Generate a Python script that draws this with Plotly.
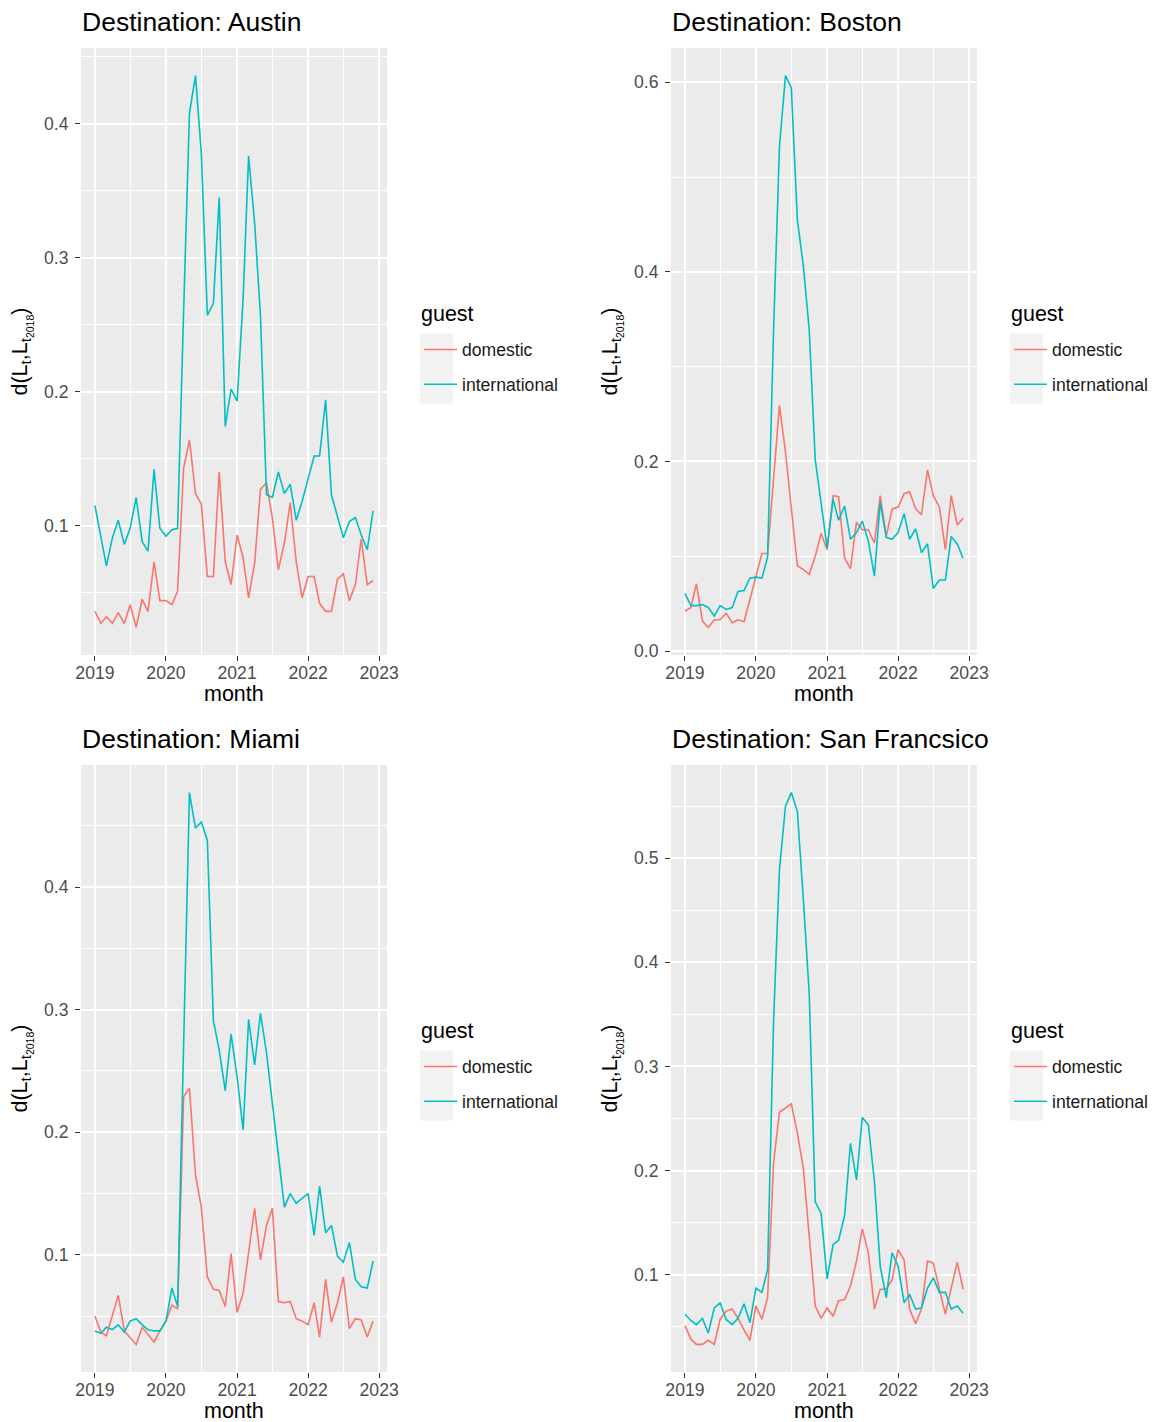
import math
import pandas as pd
import plotly.graph_objects as go

# ---------------- data ----------------
months = pd.date_range("2019-01-01", "2022-12-01", freq="MS")
year_ticks = ["2019", "2020", "2021", "2022", "2023"]
cities = ["Austin", "Boston", "Miami", "San Francsico"]
guest_types = ["domestic", "international"]

austin_domestic = [0.036, 0.027, 0.032, 0.027, 0.035, 0.027, 0.041, 0.024, 0.045, 0.036, 0.073, 0.044,
                   0.044, 0.041, 0.051, 0.143, 0.164, 0.124, 0.116, 0.062, 0.062, 0.140, 0.073, 0.056,
                   0.093, 0.076, 0.046, 0.072, 0.127, 0.132, 0.106, 0.067, 0.087, 0.117, 0.073, 0.046,
                   0.062, 0.062, 0.042, 0.036, 0.036, 0.060, 0.064, 0.044, 0.056, 0.090, 0.056, 0.059]
austin_international = [0.115, 0.091, 0.070, 0.091, 0.104, 0.086, 0.098, 0.121, 0.088, 0.081, 0.142, 0.098,
                        0.092, 0.097, 0.098, 0.260, 0.408, 0.436, 0.378, 0.257, 0.266, 0.345, 0.174, 0.202,
                        0.193, 0.270, 0.376, 0.326, 0.257, 0.123, 0.121, 0.140, 0.124, 0.131, 0.104, 0.118,
                        0.134, 0.152, 0.152, 0.194, 0.123, 0.107, 0.091, 0.103, 0.106, 0.093, 0.082, 0.111]
boston_domestic = [0.042, 0.046, 0.071, 0.032, 0.025, 0.033, 0.033, 0.040, 0.030, 0.033, 0.031, 0.055,
                   0.081, 0.103, 0.103, 0.185, 0.259, 0.210, 0.150, 0.090, 0.086, 0.081, 0.100, 0.124,
                   0.107, 0.164, 0.163, 0.098, 0.087, 0.136, 0.128, 0.128, 0.114, 0.164, 0.121, 0.150,
                   0.152, 0.166, 0.168, 0.150, 0.144, 0.191, 0.164, 0.152, 0.107, 0.164, 0.133, 0.140]
boston_international = [0.061, 0.048, 0.048, 0.049, 0.046, 0.037, 0.048, 0.044, 0.046, 0.063, 0.064, 0.077,
                        0.078, 0.077, 0.099, 0.340, 0.532, 0.607, 0.594, 0.455, 0.406, 0.339, 0.202, 0.157,
                        0.109, 0.160, 0.138, 0.153, 0.118, 0.125, 0.137, 0.116, 0.079, 0.157, 0.120, 0.118,
                        0.125, 0.145, 0.118, 0.129, 0.104, 0.113, 0.066, 0.075, 0.075, 0.121, 0.113, 0.098]
miami_domestic = [0.050, 0.037, 0.034, 0.050, 0.067, 0.038, 0.033, 0.027, 0.041, 0.035, 0.029, 0.038,
                  0.046, 0.059, 0.056, 0.229, 0.236, 0.165, 0.139, 0.082, 0.072, 0.071, 0.058, 0.101,
                  0.053, 0.069, 0.104, 0.138, 0.096, 0.124, 0.138, 0.062, 0.061, 0.062, 0.048, 0.046,
                  0.043, 0.061, 0.033, 0.080, 0.045, 0.061, 0.082, 0.040, 0.048, 0.047, 0.033, 0.046]
miami_international = [0.038, 0.036, 0.041, 0.039, 0.043, 0.037, 0.046, 0.048, 0.043, 0.039, 0.038, 0.038,
                       0.046, 0.073, 0.058, 0.280, 0.477, 0.448, 0.453, 0.438, 0.291, 0.267, 0.234, 0.280,
                       0.245, 0.202, 0.292, 0.255, 0.297, 0.265, 0.225, 0.180, 0.139, 0.150, 0.142, 0.146,
                       0.150, 0.116, 0.156, 0.118, 0.124, 0.099, 0.094, 0.110, 0.080, 0.074, 0.073, 0.095]
sf_domestic = [0.051, 0.038, 0.033, 0.033, 0.037, 0.033, 0.057, 0.065, 0.067, 0.058, 0.047, 0.037,
               0.070, 0.057, 0.078, 0.208, 0.256, 0.260, 0.264, 0.236, 0.202, 0.137, 0.070, 0.058,
               0.068, 0.060, 0.075, 0.076, 0.089, 0.113, 0.144, 0.121, 0.067, 0.086, 0.086, 0.095,
               0.124, 0.114, 0.067, 0.053, 0.067, 0.113, 0.111, 0.086, 0.062, 0.087, 0.112, 0.086]
sf_international = [0.062, 0.056, 0.052, 0.058, 0.044, 0.068, 0.073, 0.057, 0.052, 0.058, 0.072, 0.054,
                    0.087, 0.083, 0.105, 0.345, 0.489, 0.550, 0.563, 0.545, 0.460, 0.370, 0.170, 0.159,
                    0.096, 0.129, 0.133, 0.157, 0.226, 0.191, 0.251, 0.244, 0.190, 0.108, 0.078, 0.121,
                    0.108, 0.073, 0.081, 0.067, 0.068, 0.087, 0.097, 0.083, 0.083, 0.067, 0.070, 0.063]

series = {
    "Austin": (austin_domestic, austin_international),
    "Boston": (boston_domestic, boston_international),
    "Miami": (miami_domestic, miami_international),
    "San Francsico": (sf_domestic, sf_international),
}
y_major_step = {"Austin": 0.1, "Boston": 0.2, "Miami": 0.1, "San Francsico": 0.1}

# ---------------- styling / layout ----------------
W, H = 1162, 1422
COLORS = {"domestic": "#F8766D", "international": "#00BFC4"}
FONT = "Liberation Sans, Arial, sans-serif"
TICK_FONT = dict(family=FONT, size=17.6, color="#4D4D4D")
AXIS_TITLE_FONT = dict(family=FONT, size=21.5, color="#000000")
# pixel boxes of the panels: (left, right, top, bottom)
panel_px = {
    "Austin": (81, 387, 48, 655),
    "Boston": (671, 977, 48, 655),
    "Miami": (81, 387, 765, 1372),
    "San Francsico": (671, 977, 765, 1372),
}


def px(xs):
    return xs / W


def py(ys):
    return 1 - ys / H


fig = go.Figure()

x_lo, x_hi = months.min(), months.max()
x_pad = (x_hi - x_lo) * 0.05
x_range = [x_lo - x_pad, x_hi + x_pad]
year_dates = [pd.Timestamp(f"{y}-01-01") for y in year_ticks]
mid_dates = [pd.Timestamp(f"{y}-07-01") for y in year_ticks[:-1]]

layout = dict(
    width=W, height=H,
    margin=dict(l=0, r=0, t=0, b=0, autoexpand=False),
    paper_bgcolor="white",
    plot_bgcolor="#EBEBEB",
    showlegend=True,
    annotations=[],
    shapes=[],
)

for i, city in enumerate(cities):
    n = i + 1
    sfx = "" if n == 1 else str(n)
    left, right, top, bottom = panel_px[city]
    dom, intl = series[city]
    legend_name = "legend" if n == 1 else f"legend{n}"

    for gt, vals in zip(guest_types, (dom, intl)):
        fig.add_trace(go.Scatter(
            x=months, y=vals, mode="lines", name=gt,
            line=dict(color=COLORS[gt], width=1.6),
            xaxis=f"x{sfx}", yaxis=f"y{sfx}",
            legend=legend_name, legendgroup=f"{city}-{gt}",
        ))

    allv = list(dom) + list(intl)
    lo, hi = min(allv), max(allv)
    pad = (hi - lo) * 0.05
    step = y_major_step[city]
    k0 = math.ceil((lo - pad) / step - 1e-9)
    k1 = math.floor((hi + pad) / step + 1e-9)
    majors = [round(k * step, 3) for k in range(k0, k1 + 1)]
    minors = [round((k + 0.5) * step, 3) for k in range(k0 - 1, k1 + 1)
              if lo - pad <= (k + 0.5) * step <= hi + pad]

    layout[f"xaxis{sfx}"] = dict(
        domain=[px(left), px(right)], anchor=f"y{sfx}", type="date",
        range=x_range, tickvals=year_dates, ticktext=year_ticks,
        ticks="outside", ticklen=5, tickwidth=1.1, tickcolor="#333333",
        ticklabelstandoff=-3,
        tickfont=TICK_FONT, showgrid=True, gridcolor="white", gridwidth=1.5,
        zeroline=False, showline=False, automargin=False,
        minor=dict(tickvals=mid_dates, showgrid=True, gridcolor="white", gridwidth=0.7, ticks=""),
    )
    layout[f"yaxis{sfx}"] = dict(
        domain=[py(bottom), py(top)], anchor=f"x{sfx}",
        range=[lo - pad, hi + pad], tickvals=majors, tickformat=".1f",
        ticks="outside", ticklen=5, tickwidth=1.1, tickcolor="#333333",
        ticklabelstandoff=3,
        tickfont=TICK_FONT, showgrid=True, gridcolor="white", gridwidth=1.5,
        zeroline=False, showline=False, automargin=False,
        minor=dict(tickvals=minors, showgrid=True, gridcolor="white", gridwidth=0.7, ticks=""),
    )

    # panel title
    layout["annotations"].append(dict(
        text=f"Destination: {city}", xref="paper", yref="paper",
        x=px(left - 1), y=py(top - 26), xanchor="left", yanchor="middle",
        showarrow=False, font=dict(family=FONT, size=26.5, color="#000000"),
    ))
    # x axis title
    layout["annotations"].append(dict(
        text="month", xref="paper", yref="paper",
        x=px((left + right) / 2), y=py(bottom + 39), xanchor="center", yanchor="middle",
        showarrow=False, font=AXIS_TITLE_FONT,
    ))
    # y axis title
    layout["annotations"].append(dict(
        text="d(L<sub>t</sub>,L<sub>t<sub>2018</sub></sub>)", xref="paper", yref="paper",
        x=px(left - 59), y=py((top + bottom) / 2), xanchor="center", yanchor="middle",
        textangle=-90, showarrow=False, font=AXIS_TITLE_FONT,
    ))
    # legend title
    mid_y = (top + bottom) / 2
    layout["annotations"].append(dict(
        text="guest", xref="paper", yref="paper",
        x=px(right + 32), y=py(mid_y - 38), xanchor="left", yanchor="middle",
        showarrow=False, font=AXIS_TITLE_FONT,
    ))

    layout[legend_name] = dict(
        x=px(right + 32), y=py(mid_y - 20), xanchor="left", yanchor="top",
        xref="paper", yref="paper",
        bgcolor="rgba(0,0,0,0)", borderwidth=0,
        font=dict(family=FONT, size=17.6, color="#1A1A1A"),
        itemwidth=33, tracegroupgap=9,
    )
    key_left = right + 33
    key_top = mid_y - 18
    layout["shapes"].append(dict(
        type="rect", xref="paper", yref="paper", layer="below",
        x0=px(key_left), x1=px(key_left + 33),
        y0=py(key_top + 70), y1=py(key_top),
        fillcolor="#F2F2F2", line=dict(width=0),
    ))

fig.update_layout(**layout)
fig.write_html(
    "out.html",
    config={"displayModeBar": False},
    post_script="document.body.style.margin='0';document.body.style.overflow='hidden';",
)
